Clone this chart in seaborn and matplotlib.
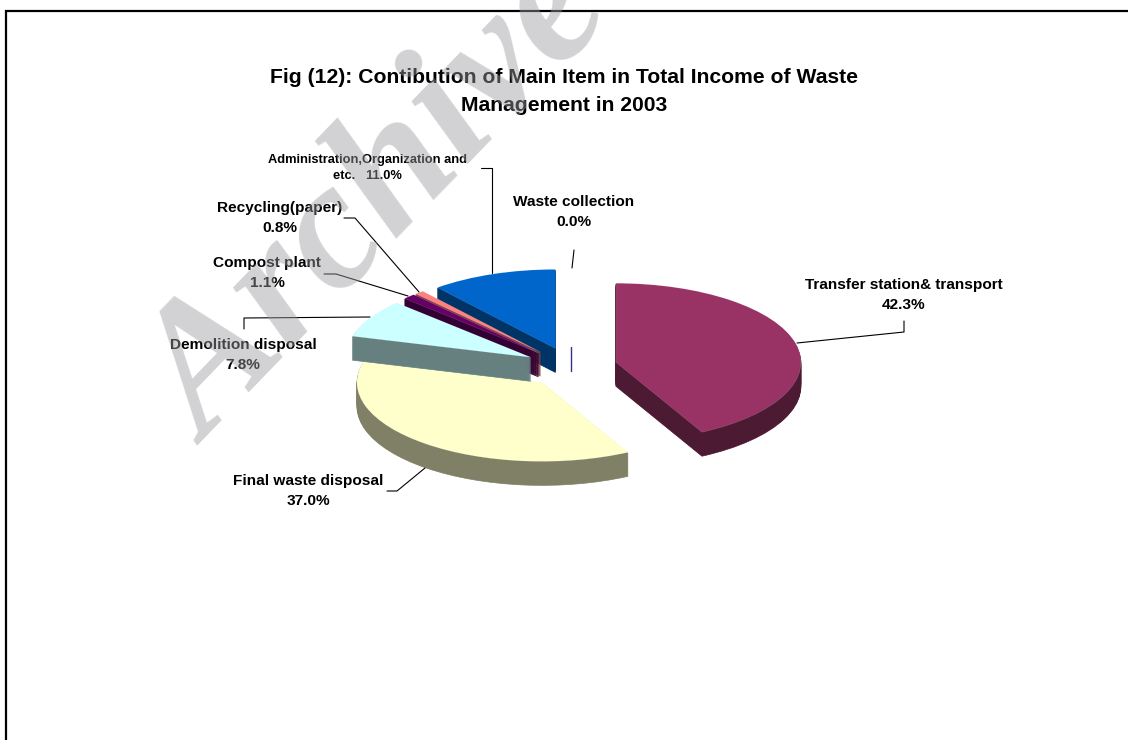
import matplotlib
matplotlib.use("Agg")
import matplotlib.pyplot as plt
import seaborn as sns

# Income shares by item, in percent
items = ["Transfer station& transport", "Final waste disposal", "Demolition disposal",
         "Compost plant", "Recycling(paper)", "Administration,Organization and\netc.", "Waste collection"]
shares = [42.3, 37.0, 7.8, 1.1, 0.8, 11.0, 0.0]
item_colors = ["#993366", "#FFFFCC", "#CCFFFF", "#660066", "#FF8080", "#0066CC", "#FFFFFF"]
title_text = "Fig (12): Contibution of Main Item in Total Income of Waste\nManagement in 2003"
watermark_text = "Archive"

sns.set_theme(style="white")
plt.rcParams["font.family"] = ["Liberation Sans", "DejaVu Sans"]

W, H = 1128, 740
SQUASH = 0.427   # vertical foreshortening of the pie disc
RADIUS = 185
DEPTH = 24       # thickness of the disc, in pixels
CENTER_X, CENTER_Y = 571, 367
EXPLODE = 0.25 * RADIUS

top_colors = sns.color_palette(item_colors)
side_colors = [tuple(c * 0.5 for c in rgb) for rgb in top_colors]

fig = plt.figure(figsize=(W / 100, H / 100), dpi=100, facecolor="white")
ax = fig.add_axes([0, 0, 1, 1])


def disc(offset, colors, layer):
    """Draw one exploded pie layer, `offset` pixels below the top face."""
    wedges, _ = ax.pie(
        shares,
        explode=[EXPLODE] * len(shares),
        colors=colors,
        startangle=90,
        counterclock=False,
        radius=RADIUS,
        center=(CENTER_X, (H - CENTER_Y - offset) / SQUASH),
        frame=True,
        wedgeprops={"linewidth": 0},
    )
    # Paint order: far wedges first, then the nearer slices over them
    order = {1: 1, 0: 2, 6: 3, 5: 4, 4: 5, 3: 6, 2: 7}
    for i, w in enumerate(wedges):
        w.set_zorder(order[i] + layer)
    return wedges


for step in range(DEPTH, 0, -1):
    side = disc(step, side_colors, 0.0)
    # A hairline keeps the narrow slices solid right up to their tips
    for w, c in zip(side[:-1], side_colors):
        w.set_edgecolor(c)
        w.set_linewidth(0.5)
top = disc(0, top_colors, 0.5)
for w in top[:-1]:
    w.set_edgecolor((1, 1, 1, 0.25))
    w.set_linewidth(0.3)

ax.set_aspect("auto")
ax.set_xlim(0, W)
ax.set_ylim(0, H / SQUASH)
ax.axis("off")

# Overlay in pixel coordinates for the frame, text and leader lines
over = fig.add_axes([0, 0, 1, 1], facecolor="none")
over.set_xlim(0, W)
over.set_ylim(H, 0)
over.axis("off")

# The empty slice only shows as a thin edge on the disc side
zero_cx, zero_cy = top[-1].center
zero_py = H - zero_cy * SQUASH
over.plot([zero_cx, zero_cx], [zero_py, zero_py + DEPTH], color="#33337F", lw=1.0, zorder=4)

# Page rule along the left and top only
over.plot([5.5, 5.5, W + 2], [H + 2, 10.5, 10.5], color="black", lw=1.6,
          solid_joinstyle="miter", zorder=3)

over.text(564, 91.5, title_text, ha="center", va="center", fontsize=15.2, fontweight="bold",
          color="black", linespacing=1.56, zorder=5)

label_pos = [(904, 295), (308, 491), (243, 355), (267, 273), (280, 218), (367, 168), (574, 212)]
for name, val, (lx, ly) in zip(items, shares, label_pos):
    small = name.endswith("etc.")
    sep = "   " if small else "\n"
    over.text(lx, ly, f"{name}{sep}{val:.1f}%", ha="center", va="center",
              fontsize=9.25 if small else 11.1, fontweight="bold", color="black",
              linespacing=1.43 if small else 1.63, zorder=5)

leaders = [
    [(797, 343), (904, 332), (904, 321)],
    [(387, 491), (397, 491), (425, 468)],
    [(244, 329), (244, 318), (370, 317)],
    [(324, 274), (336, 274), (408, 296)],
    [(344, 218), (355, 218), (419, 292)],
    [(481, 168), (492, 168), (492, 273)],
    [(574, 250), (572, 268)],
]
for pts in leaders:
    xs, ys = zip(*pts)
    over.plot(xs, ys, color="black", lw=0.8, zorder=4)

# Translucent diagonal stamp laid over the page
over.text(381, 203, watermark_text, ha="center", va="center", rotation=46,
          rotation_mode="anchor", fontsize=132, family="Liberation Serif", style="italic",
          fontweight="bold", color="#9C9CA0", alpha=0.45, zorder=6, clip_on=True)

fig.savefig("out.png", dpi=100)
